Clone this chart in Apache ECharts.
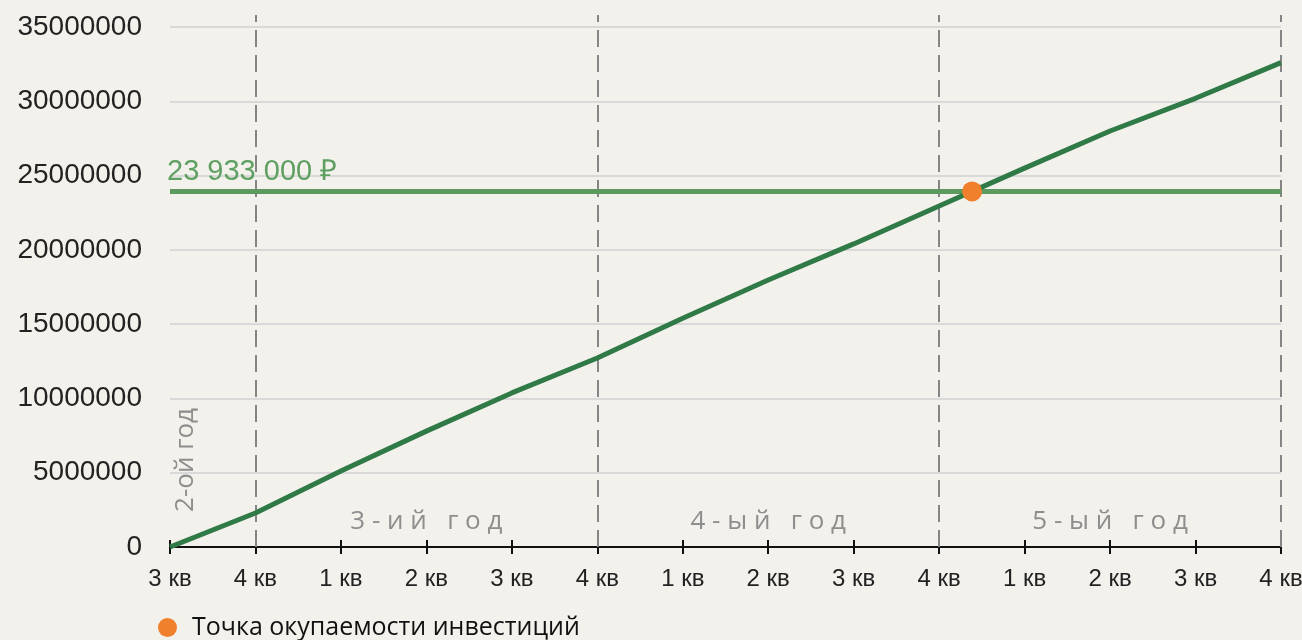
<!DOCTYPE html>
<html>
<head>
<meta charset="utf-8">
<script src="https://cdn.jsdelivr.net/npm/echarts@6/dist/echarts.min.js"></script>
<style>
html,body{margin:0;padding:0;background:#f3f1ec;}
#chart{width:1302px;height:640px;}
</style>
</head>
<body>
<div id="chart"></div>
<script>
const quarters = ['3 кв','4 кв','1 кв','2 кв','3 кв','4 кв','1 кв','2 кв','3 кв','4 кв','1 кв','2 кв','3 кв','4 кв'];
const cumulative = [0, 2290000, 5120000, 7800000, 10370000, 12720000, 15400000, 17970000, 20400000, 22950000, 25500000, 28000000, 30200000, 32600000];
const investment = 23933000;
const investmentLabel = '23 933 000 ₽';
const yearBoundaries = [1, 5, 9, 13];
const yearLabels = ['2-ой год', '3 - и й   г о д', '4 - ы й   г о д', '5 - ы й   г о д'];
const legendName = 'Точка окупаемости инвестиций';
const yTicks = {min: 0, max: 35000000, interval: 5000000};

// payback point: interpolate where the cumulative line crosses the investment
let payback = null;
for (let i = 1; i < cumulative.length; i++) {
  if (cumulative[i - 1] < investment && cumulative[i] >= investment) {
    const f = (investment - cumulative[i - 1]) / (cumulative[i] - cumulative[i - 1]);
    payback = [i - 1 + f, investment];
    break;
  }
}

const lineData = cumulative.map((v, i) => [i, v]);
const yearStarts = [0].concat(yearBoundaries.slice(0, -1));

const markAreas = yearLabels.map((t, i) => {
  const first = i === 0;
  return [{
    xAxis: yearStarts[i],
    name: t,
    label: first ? {
      show: true, rotate: 90, position: [16, 433], align: 'center', verticalAlign: 'middle',
      fontSize: 26, color: '#8e8e8e', fontFamily: 'Open Sans'
    } : {
      show: true, position: 'insideBottom', distance: 12,
      fontSize: 26, color: '#8e8e8e', fontFamily: 'Open Sans'
    }
  }, {xAxis: yearBoundaries[i]}];
});

const chart = echarts.init(document.getElementById('chart'));
chart.setOption({
  backgroundColor: '#f3f1ec',
  animation: false,
  grid: [
    {left: 170, right: 21, top: 27, bottom: 93, outerBoundsMode: 'none', containLabel: false},
    {left: 170, right: 21, top: 15, bottom: 93, outerBoundsMode: 'none', containLabel: false}
  ],
  xAxis: [{
    gridIndex: 0, type: 'value', min: 0, max: quarters.length - 1, interval: 1,
    axisLine: {lineStyle: {color: '#111', width: 2}},
    axisTick: {show: true, length: 7, lineStyle: {color: '#111', width: 2}},
    axisLabel: {formatter: v => quarters[v] || '', fontSize: 24, color: '#222', margin: 20, fontFamily: 'Liberation Sans'},
    splitLine: {show: false}
  }, {
    gridIndex: 1, type: 'value', min: 0, max: quarters.length - 1, interval: 1,
    axisLine: {show: false},
    axisTick: {show: true, inside: true, length: 7, lineStyle: {color: '#111', width: 2}},
    axisLabel: {show: false},
    splitLine: {show: false}
  }],
  yAxis: [{
    gridIndex: 0, type: 'value', min: yTicks.min, max: yTicks.max, interval: yTicks.interval,
    axisLine: {show: false}, axisTick: {show: false},
    axisLabel: {formatter: v => String(v), fontSize: 28, color: '#222', margin: 28, fontFamily: 'Liberation Sans'},
    splitLine: {lineStyle: {color: '#d9d9d9', width: 2}}
  }, {
    gridIndex: 1, type: 'value', min: 0, max: 1, show: false
  }],
  legend: {
    data: [{name: legendName, icon: 'circle'}],
    left: 153, top: 610, itemWidth: 19, itemHeight: 19, itemGap: 10,
    textStyle: {fontSize: 25, color: '#111', fontFamily: 'Open Sans', padding: [0, 0, 0, 10]}
  },
  series: [{
    type: 'line', xAxisIndex: 1, yAxisIndex: 1, data: [], silent: true,
    markLine: {
      symbol: 'none', silent: true, label: {show: false},
      lineStyle: {type: [17, 8], color: '#858585', width: 2},
      data: yearBoundaries.map(b => ({xAxis: b}))
    }
  }, {
    name: 'cumulative', type: 'line', xAxisIndex: 0, yAxisIndex: 0,
    data: lineData, symbol: 'none', z: 5,
    lineStyle: {color: '#2f7a47', width: 5},
    markLine: {
      symbol: 'none', silent: true,
      lineStyle: {type: 'solid', color: '#5c9a60', width: 5},
      label: {show: true, position: 'insideStartTop', formatter: investmentLabel, fontSize: 29, color: '#5fa062', fontFamily: 'Liberation Sans', distance: [-3, 5]},
      data: [{yAxis: investment}]
    },
    markArea: {
      silent: true, itemStyle: {color: 'rgba(0,0,0,0)'},
      data: markAreas
    }
  }, {
    name: legendName, type: 'scatter', xAxisIndex: 0, yAxisIndex: 0,
    data: payback ? [payback] : [], symbolSize: 20, z: 10,
    itemStyle: {color: '#f0802c', opacity: 1}
  }]
});
</script>
</body>
</html>
